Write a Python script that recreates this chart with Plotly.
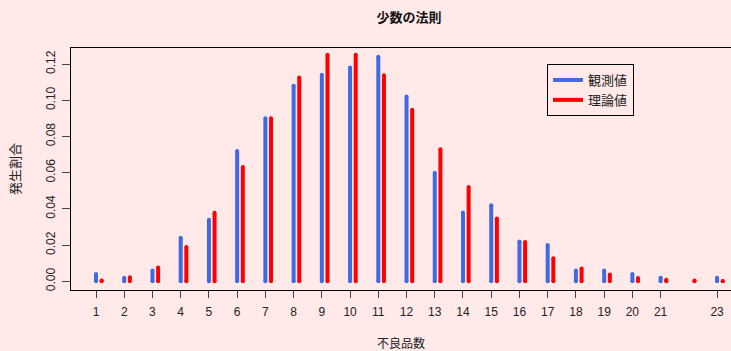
import plotly.graph_objects as go

# Observed defect counts (number of defective items) and their relative frequency
obs_x = [1, 2, 3, 4, 5, 6, 7, 8, 9, 10, 11, 12, 13, 14, 15, 16, 17, 18, 19, 20, 21, 23]
obs_p = [0.004, 0.002, 0.006, 0.024, 0.034, 0.072, 0.090, 0.108, 0.114, 0.118, 0.124,
         0.102, 0.060, 0.038, 0.042, 0.022, 0.020, 0.006, 0.006, 0.004, 0.002, 0.002]

# Theoretical (Poisson, mean 10) probabilities for 1..23
theo_x = list(range(1, 24))
theo_p = [0.00045, 0.00227, 0.00757, 0.01892, 0.03783, 0.06306, 0.09008, 0.11260,
          0.12511, 0.12511, 0.11374, 0.09478, 0.07291, 0.05208, 0.03472, 0.02170,
          0.01276, 0.00709, 0.00373, 0.00187, 0.00089, 0.00040, 0.00018]

tick_vals = obs_x
tick_text = [str(v) for v in obs_x]

BLUE = "#4169E1"
RED = "#FF0000"
BG = "#FFE9E9"
FONT = "'Liberation Sans', Arial, 'Noto Sans CJK JP', sans-serif"
LW = 4


def spikes(xs, ys, shift):
    """Vertical segments from 0 to each value (type='h' style)."""
    px, py = [], []
    for x, y in zip(xs, ys):
        px += [x + shift, x + shift, None]
        py += [0, y, None]
    return px, py


fig = go.Figure()
for xs, ys, shift, color, name in [
    (obs_x, obs_p, 0.0, BLUE, "観測値"),
    (theo_x, theo_p, 0.2, RED, "理論値"),
]:
    px, py = spikes(xs, ys, shift)
    fig.add_trace(go.Scatter(
        x=px, y=py, mode="lines+markers",
        line=dict(color=color, width=LW),
        marker=dict(color=color, size=LW, line=dict(width=0)),
        showlegend=False, hoverinfo="skip",
    ))
    # legend entry
    fig.add_trace(go.Scatter(
        x=[None], y=[None], mode="lines", name=name,
        line=dict(color=color, width=LW),
    ))

fig.update_layout(
    width=731, height=351,
    margin=dict(l=71, r=0, t=48, b=61),
    paper_bgcolor=BG, plot_bgcolor=BG,
    font=dict(family=FONT, size=12, color="#222222"),
    title=dict(text="<b>少数の法則</b>", x=409 / 731, xanchor="center",
               y=1 - 17 / 351, yanchor="middle", font=dict(size=13, color="#111111")),
    legend=dict(x=(547 - 71) / 660, y=(290 - 64) / 242, xanchor="left", yanchor="top",
                bordercolor="black", borderwidth=1, bgcolor=BG,
                font=dict(size=13, color="#222222"), itemwidth=30,
                tracegroupgap=0),
    showlegend=True,
)

fig.update_xaxes(
    range=[1 + (71 - 96) / 28.23, 1 + (731 - 96) / 28.23],
    tickmode="array", tickvals=tick_vals, ticktext=tick_text,
    ticks="outside", ticklen=7, tickcolor="#444444", tickwidth=1,
    ticklabelstandoff=4,
    showline=True, linecolor="black", linewidth=1, mirror=True,
    showgrid=False, zeroline=False,
    tickfont=dict(size=12),
    title=dict(text="不良品数", font=dict(size=12), standoff=22),
)
fig.update_yaxes(
    range=[-(290 - 281.3) / 1811, 0.12 + (64 - 48) / 1811],
    tickmode="array", tickvals=[0, 0.02, 0.04, 0.06, 0.08, 0.10, 0.12],
    ticktext=["0.00", "0.02", "0.04", "0.06", "0.08", "0.10", "0.12"],
    tickangle=-90,
    ticks="outside", ticklen=8, tickcolor="#444444", tickwidth=1,
    ticklabelstandoff=2,
    showline=True, linecolor="black", linewidth=1,
    showgrid=False, zeroline=False,
    tickfont=dict(size=12),
    title=dict(text="発生割合", font=dict(size=13), standoff=20),
)

fig.write_html("out.html")
